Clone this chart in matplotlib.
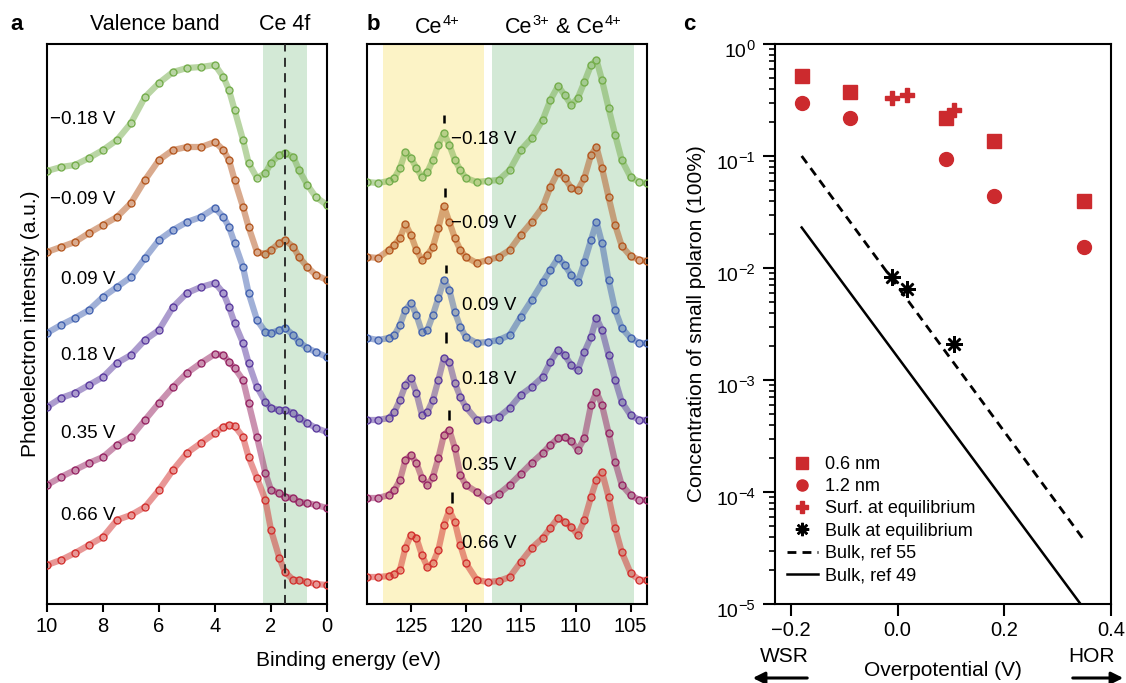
import matplotlib
matplotlib.use("Agg")
import matplotlib.pyplot as plt
from matplotlib.transforms import blended_transform_factory, offset_copy

plt.rcParams['font.family'] = ['Liberation Sans', 'DejaVu Sans']
plt.rcParams['mathtext.fontset'] = 'custom'
plt.rcParams['mathtext.rm'] = 'Liberation Sans'
plt.rcParams['mathtext.it'] = 'Liberation Sans'
plt.rcParams['mathtext.default'] = 'regular'

# ---------------- data: panel a (valence band) ----------------
be_a = [10, 9.5, 9, 8.5, 8, 7.5, 7, 6.5, 6, 5.5, 5, 4.5, 4, 3.7, 3.5, 3.3, 3.0,
        2.8, 2.5, 2.2, 2.0, 1.7, 1.5, 1.2, 1.0, 0.7, 0.4, 0]
vb_m018 = [433, 437, 439, 446, 454, 464, 481, 507, 521, 532, 536, 537, 539, 527, 514, 494, 464,
           441, 426, 431, 441, 449, 451, 447, 434, 419, 407, 399]
vb_m009 = [352, 357, 362, 371, 379, 387, 401, 424, 444, 454, 457, 457, 462, 454, 444, 424, 397,
           377, 352, 350, 354, 361, 364, 357, 347, 337, 329, 324]
vb_p009 = [271, 279, 286, 294, 307, 317, 327, 346, 364, 374, 382, 387, 396, 387, 377, 361, 337,
           311, 284, 272, 271, 274, 276, 269, 262, 256, 252, 247]
vb_p018 = [197, 206, 211, 219, 227, 241, 249, 264, 274, 297, 311, 317, 321, 311, 297, 281, 261,
           241, 217, 202, 196, 194, 194, 191, 186, 181, 176, 172]
vb_p035 = [119, 127, 134, 141, 147, 159, 167, 184, 201, 217, 231, 241, 250, 249, 242, 236, 224,
           201, 167, 131, 114, 111, 107, 106, 102, 101, 99, 96]
vb_p066 = [39, 44, 51, 59, 67, 84, 89, 97, 114, 134, 151, 161, 171, 177, 179, 178, 167,
           147, 126, 104, 74, 46, 32, 24, 24, 22, 20, 19]

# ---------------- data: panel b (Ce 4d) ----------------
be_b = [129, 128, 127, 126.5, 126, 125.5, 125, 124.5, 124, 123.5, 123, 122.5, 122, 121.5,
        121, 120.5, 120, 119, 118, 117, 116, 115, 114, 113, 112.3, 111.6, 111, 110.4,
        109.8, 109.2, 108.6, 108.1, 107.6, 107, 106.4, 105.8, 105, 104.2, 103.5]
ce_m018 = [422, 421, 423, 426, 436, 452, 446, 436, 427, 432, 444, 459, 471, 459, 444, 434, 426,
           422, 423, 424, 434, 454, 466, 484, 504, 518, 509, 499, 506, 522, 539, 544, 524, 496,
           469, 444, 427, 422, 421]
ce_m009 = [347, 346, 354, 359, 366, 380, 369, 354, 344, 349, 357, 376, 398, 382, 366, 354, 347,
           341, 344, 347, 354, 369, 382, 397, 417, 432, 426, 416, 414, 426, 449, 457, 436, 407,
           379, 358, 348, 344, 343]
ce_p009 = [266, 264, 266, 269, 279, 294, 301, 289, 272, 274, 289, 306, 324, 314, 292, 277, 267,
           261, 262, 264, 269, 287, 304, 322, 334, 346, 339, 329, 322, 342, 364, 382, 361, 324,
           294, 276, 266, 261, 261]
ce_p018 = [184, 184, 186, 192, 204, 219, 226, 211, 189, 192, 204, 224, 246, 242, 221, 207, 197,
           184, 185, 187, 196, 209, 217, 227, 242, 254, 249, 239, 234, 252, 267, 286, 274, 249,
           224, 202, 189, 184, 184]
ce_p035 = [106, 106, 109, 114, 124, 144, 149, 141, 126, 119, 127, 146, 169, 174, 156, 129, 119,
           112, 104, 110, 119, 130, 141, 151, 159, 166, 167, 163, 154, 166, 199, 212, 199, 171,
           142, 119, 109, 104, 104]
ce_p066 = [27, 27, 28, 30, 34, 56, 69, 66, 49, 37, 41, 54, 79, 94, 82, 59, 41,
           24, 22, 23, 27, 42, 56, 66, 76, 86, 82, 77, 69, 84, 107, 124, 132, 107,
           76, 52, 31, 24, 24]
peak_be = [122.0, 121.9, 121.8, 121.8, 121.5, 121.3]
peak_lo = [481, 407, 331, 261, 184, 101]
peak_hi = [489, 416, 339, 272, 194, 112]

voltage_labels = ['\u22120.18 V', '\u22120.09 V', '0.09 V', '0.18 V', '0.35 V', '0.66 V']
colors = ['#74ad4b', '#b4571f', '#4262b0', '#5a3a9e', '#962463', '#d2302e']
label_a_y = [484, 404, 324, 248, 170, 89]
label_b_y = [464, 381, 299, 224, 139, 61]

# ---------------- data: panel c ----------------
x_sq = [-0.18, -0.09, 0.09, 0.18, 0.35]
y_sq = [0.52, 0.37, 0.22, 0.136, 0.040]
x_ci = [-0.18, -0.09, 0.09, 0.18, 0.35]
y_ci = [0.30, 0.22, 0.094, 0.044, 0.0154]
x_plus = [-0.01, 0.017, 0.105]
y_plus = [0.33, 0.35, 0.26]
x_bulk = [-0.01, 0.017, 0.105]
y_bulk = [0.0083, 0.0065, 0.0021]
x_ref55 = [-0.18, 0.348]
y_ref55 = [0.10, 3.8e-5]
x_ref49 = [-0.18, 0.35]
y_ref49 = [0.023, 9.0e-6]
ytick_vals = [1e0, 1e-1, 1e-2, 1e-3, 1e-4, 1e-5]
ytick_exps = ['0', '\u22121', '\u22122', '\u22123', '\u22124', '\u22125']

red = '#cc2a2e'

fig = plt.figure(figsize=(11.26, 6.83), dpi=100)
W, H = 1126, 683
renderer = fig.canvas.get_renderer()


def rect(l, r, t, b):
    return [l / W, 1 - b / H, (r - l) / W, (b - t) / H]


axa = fig.add_axes(rect(47, 327, 44, 604))
axb = fig.add_axes(rect(367, 647, 44, 604))
axc = fig.add_axes(rect(775, 1111, 44, 604))

tick_fs = 14.5
lab_fs = 15
for ax in (axa, axb, axc):
    for s in ax.spines.values():
        s.set_linewidth(1.5)
    ax.tick_params(direction='out', width=1.5, length=5.5, labelsize=tick_fs, pad=4)

# ---- panel a ----
vb = [vb_m018, vb_m009, vb_p009, vb_p018, vb_p035, vb_p066]
axa.axvspan(2.3, 0.7, color='#d3e9d6', lw=0, zorder=0)
for yv, c in zip(vb, colors):
    axa.plot(be_a, yv, '-', color=c, lw=4.5, alpha=0.5, solid_capstyle='round', zorder=2)
    axa.plot(be_a, yv, 'o', mfc='none', mec=c, ms=5, mew=1.0, zorder=3)
axa.axvline(1.5, color='#222222', lw=1.3, ls=(0, (5, 3.5)), zorder=4)
for lab, ly in zip(voltage_labels, label_a_y):
    axa.text(7.55, ly, lab, ha='right', va='center', fontsize=13.5)
axa.set_xlim(10, 0)
axa.set_ylim(0, 560)
axa.set_yticks([])
axa.set_xticks([10, 8, 6, 4, 2, 0])
axa.set_ylabel('Photoelectron intensity (a.u.)', fontsize=lab_fs, labelpad=5)

# ---- panel b ----
ce = [ce_m018, ce_m009, ce_p009, ce_p018, ce_p035, ce_p066]
axb.axvspan(127.5, 118.3, color='#fcf3c6', lw=0, zorder=0)
axb.axvspan(117.6, 104.7, color='#d3e9d6', lw=0, zorder=0)
for yv, c in zip(ce, colors):
    axb.plot(be_b, yv, '-', color=c, lw=4.5, alpha=0.5, solid_capstyle='round', zorder=2)
    axb.plot(be_b, yv, 'o', mfc='none', mec=c, ms=5, mew=1.0, zorder=3)
axb.vlines(peak_be, peak_lo, peak_hi, color='black', lw=1.8, zorder=4)
for lab, ly in zip(voltage_labels, label_b_y):
    axb.text(115.4, ly, lab, ha='right', va='center', fontsize=13.5)
axb.set_xlim(129, 103.5)
axb.set_ylim(0, 560)
axb.set_yticks([])
axb.set_xticks([125, 120, 115, 110, 105])

fig.text(348 / W, 1 - 660 / H, 'Binding energy (eV)', ha='center', va='center', fontsize=lab_fs)

# ---- panel c ----
axc.set_yscale('log')
axc.set_ylim(1e-5, 1)
axc.set_xlim(-0.23, 0.4)
axc.plot(x_ref55, y_ref55, color='black', lw=2.0, ls=(0, (3.2, 2.2)), label='Bulk, ref 55')
axc.plot(x_ref49, y_ref49, color='black', lw=1.8, label='Bulk, ref 49')
axc.plot(x_sq, y_sq, 's', color=red, ms=10.5, ls='none', label='0.6 nm', zorder=5)
axc.plot(x_ci, y_ci, 'o', color=red, ms=10, ls='none', label='1.2 nm', zorder=5)
axc.plot(x_plus, y_plus, 'P', color=red, ms=10, ls='none', label='Surf. at equilibrium', zorder=5)
axc.plot(x_bulk, y_bulk, marker=(8, 2, 0), color='black', ms=12, mew=1.8, ls='none',
         label='Bulk at equilibrium', zorder=5)
axc.set_xticks([-0.2, 0.0, 0.2, 0.4])
axc.set_xticklabels(['\u22120.2', '0.0', '0.2', '0.4'])
axc.set_yticks(ytick_vals)
axc.set_yticklabels([])
axc.tick_params(axis='both', which='major', length=8.5)
axc.tick_params(axis='y', which='minor', direction='out', width=1.2, length=4)

# decade labels with large superscripts
base = blended_transform_factory(axc.transAxes, axc.transData)
for v, e in zip(ytick_vals, ytick_exps):
    tr_sup = offset_copy(base, fig=fig, x=-20, y=-6, units='dots')
    s = axc.text(0, v, e, transform=tr_sup, ha='right', va='baseline', fontsize=10.5,
                 clip_on=False)
    w = s.get_window_extent(renderer).width
    tr_10 = offset_copy(base, fig=fig, x=-20 - w - 0.5, y=-13, units='dots')
    axc.text(0, v, '10', transform=tr_10, ha='right', va='baseline', fontsize=14,
             clip_on=False)

axc.set_ylabel('Concentration of small polaron (100%)', fontsize=lab_fs, labelpad=37)

handles, labels = axc.get_legend_handles_labels()
order = [2, 3, 4, 5, 0, 1]
leg = axc.legend([handles[i] for i in order], [labels[i] for i in order],
                 loc='lower left', bbox_to_anchor=(0.003, 0.016), frameon=False,
                 fontsize=13, handlelength=1.7, handletextpad=0.4, labelspacing=0.29,
                 markerscale=0.8, borderaxespad=0.2)

fig.text(943 / W, 1 - 671 / H, 'Overpotential (V)', ha='center', va='center', fontsize=lab_fs)
fig.text(784 / W, 1 - 657 / H, 'WSR', ha='center', va='center', fontsize=lab_fs)
fig.text(1092 / W, 1 - 657 / H, 'HOR', ha='center', va='center', fontsize=lab_fs)
fig.patches.append(matplotlib.patches.FancyArrowPatch(
    (810 / W, 1 - 678 / H), (750 / W, 1 - 678 / H), transform=fig.transFigure,
    arrowstyle='-|>,head_length=7,head_width=3.5', lw=2.2, color='black', mutation_scale=1))
fig.patches.append(matplotlib.patches.FancyArrowPatch(
    (1070 / W, 1 - 678 / H), (1126 / W, 1 - 678 / H), transform=fig.transFigure,
    arrowstyle='-|>,head_length=7,head_width=3.5', lw=2.2, color='black', mutation_scale=1))

# headers
hfs = 15.5
sfs = 10.5


def header(x0, parts):
    """parts: list of (text, is_superscript); returns right edge in px"""
    x = x0
    for txt, sup in parts:
        t = fig.text(x / W, 1 - (25 if sup else 33) / H, txt, ha='left', va='baseline',
                     fontsize=sfs if sup else hfs)
        x = t.get_window_extent(renderer).x1 + 0.5
    return x


fig.text(10 / W, 1 - 25 / H, 'a', ha='left', va='center', fontsize=16, fontweight='bold')
fig.text(155 / W, 1 - 25 / H, 'Valence band', ha='center', va='center', fontsize=hfs)
fig.text(285 / W, 1 - 25 / H, 'Ce 4f', ha='center', va='center', fontsize=hfs)
fig.text(367 / W, 1 - 25 / H, 'b', ha='left', va='center', fontsize=16, fontweight='bold')
header(415, [('Ce', False), ('4+', True)])
header(505, [('Ce', False), ('3+', True), (' & Ce', False), ('4+', True)])
fig.text(683 / W, 1 - 25 / H, 'c', ha='left', va='center', fontsize=16, fontweight='bold')

fig.savefig('out.png', dpi=100)
